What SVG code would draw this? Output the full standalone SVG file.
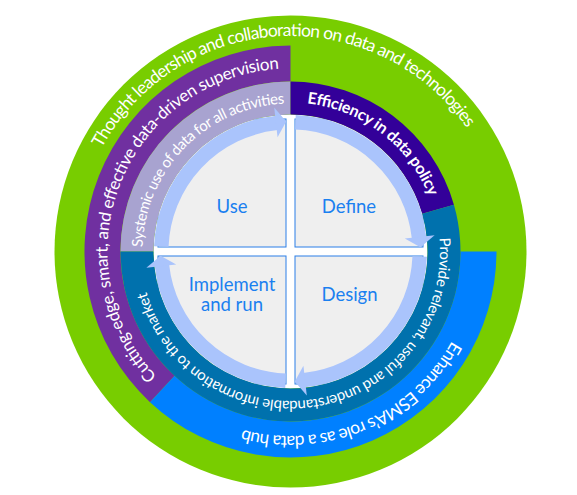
<svg xmlns="http://www.w3.org/2000/svg" width="577" height="495" viewBox="0 0 577 495">
  <style>
    .band-text { font-family: Lato, "Open Sans", "Liberation Sans", sans-serif; fill: #ffffff; }
    .quad { fill: #efefef; stroke: #2a7fe8; stroke-width: 1; }
    .quad-label { font-family: Lato, "Open Sans", "Liberation Sans", sans-serif; font-size: 18.5px; fill: #1a80f0; text-anchor: middle; }
    .arc { fill: none; stroke: #aac4fc; stroke-width: 14.5; stroke-linecap: butt; }
    .head { fill: #aac4fc; }
  </style>
  <defs>
    <clipPath id="innerClip">
      <circle cx="290.5" cy="251.5" r="137"/>
    </clipPath>
    <path id="pGreen" d="M101.73,148.08 A215,215 0 0 1 467.26,128.6"/>
    <path id="pPurple" d="M156.66,376.31 A183,183 0 0 1 279.97,68.8"/>
    <path id="pLavender" d="M142.57,247.11 A148,148 0 0 1 286.11,103.57"/>
    <path id="pIndigo" d="M307.11,103.43 A149,149 0 0 1 428.36,194.96"/>
    <path id="pTeal" d="M439.38,237.95 A149.5,149.5 0 0 1 146.51,291.7"/>
    <path id="pBlue" d="M451.87,340.95 A184.5,184.5 0 0 1 241.82,429.46"/>
  </defs>

  <g id="thought-leadership">
    <circle cx="290.5" cy="251.5" r="236" fill="#78cd00"/>
    <text class="band-text" font-size="17.5"><textPath href="#pGreen" textLength="437" lengthAdjust="spacing">Thought leadership and collaboration on data and technologies</textPath></text>
  </g>

  <g id="supervision">
    <path d="M150.01,402.17 A206,206 0 0 1 290.5,45.5 L290.5,81.5 A170,170 0 0 0 174.56,375.84 Z" fill="#7030a0"/>
    <text class="band-text" font-size="17"><textPath href="#pPurple" textLength="413" lengthAdjust="spacing">Cutting-edge, smart, and effective data-driven supervision</textPath></text>
  </g>

  <g id="data-hub">
    <path d="M496.5,251.5 A206,206 0 0 1 150.01,402.17 L174.56,375.84 A170,170 0 0 0 460.5,251.5 Z" fill="#0080ff"/>
    <text class="band-text" font-size="17.5"><textPath href="#pBlue" textLength="245" lengthAdjust="spacing">Enhance ESMA’s role as a data hub</textPath></text>
  </g>

  <circle cx="290.5" cy="251.5" r="137" fill="#ffffff"/>

  <g id="use">
    <rect class="quad" x="158" y="119" width="128" height="128" clip-path="url(#innerClip)"/>
    <text class="quad-label" x="232" y="213">Use</text>
  </g>
  <g id="define">
    <rect class="quad" x="295" y="119" width="128" height="128" clip-path="url(#innerClip)"/>
    <text class="quad-label" x="349" y="213">Define</text>
  </g>
  <g id="implement">
    <rect class="quad" x="158" y="256" width="128" height="128" clip-path="url(#innerClip)"/>
    <text class="quad-label" x="232" y="290.5">Implement</text>
    <text class="quad-label" x="232" y="311">and run</text>
  </g>
  <g id="design">
    <rect class="quad" x="295" y="256" width="128" height="128" clip-path="url(#innerClip)"/>
    <text class="quad-label" x="349.5" y="301">Design</text>
  </g>

  <g id="systemic-use">
    <path d="M120.5,251.5 A170,170 0 0 1 290.5,81.5 L290.5,114.5 A137,137 0 0 0 153.5,251.5 Z" fill="#a8a3d0"/>
    <text class="band-text" font-size="15"><textPath href="#pLavender" textLength="222" lengthAdjust="spacing">Systemic use of data for all activities</textPath></text>
  </g>

  <g id="efficiency">
    <path d="M290.5,81.5 A170,170 0 0 1 453.92,204.65 L422.2,213.74 A137,137 0 0 0 290.5,114.5 Z" fill="#330099"/>
    <text class="band-text" font-size="16" font-weight="bold"><textPath href="#pIndigo" textLength="161" lengthAdjust="spacing">Efficiency in data policy</textPath></text>
  </g>

  <g id="provide-info">
    <path d="M453.92,204.65 A170,170 0 1 1 120.5,251.5 L153.5,251.5 A137,137 0 1 0 422.2,213.74 Z" fill="#0071ad"/>
    <text class="band-text" font-size="15"><textPath href="#pTeal" textLength="442" lengthAdjust="spacing">Provide relevant, useful and understandable information to the market</textPath></text>
  </g>

  <g id="connectors">
    <g id="arrow-use-define">
      <path class="arc" d="M161.3,246.54 A129.3,129.3 0 0 1 276.98,122.91"/>
      <polygon class="head" points="277.57,137.2 274.2,107.4 286.2,121.58"/>
    </g>
    <g id="arrow-define-design" transform="rotate(90 290.5 251.5)">
      <path class="arc" d="M161.3,246.54 A129.3,129.3 0 0 1 276.98,122.91"/>
      <polygon class="head" points="277.57,137.2 274.2,107.4 286.2,121.58"/>
    </g>
    <g id="arrow-design-implement" transform="rotate(180 290.5 251.5)">
      <path class="arc" d="M161.3,246.54 A129.3,129.3 0 0 1 276.98,122.91"/>
      <polygon class="head" points="277.57,137.2 274.2,107.4 286.2,121.58"/>
    </g>
    <g id="arrow-implement-use" transform="rotate(270 290.5 251.5)">
      <path class="arc" d="M161.3,246.54 A129.3,129.3 0 0 1 276.98,122.91"/>
      <polygon class="head" points="277.57,137.2 274.2,107.4 286.2,121.58"/>
    </g>
  </g>
</svg>
